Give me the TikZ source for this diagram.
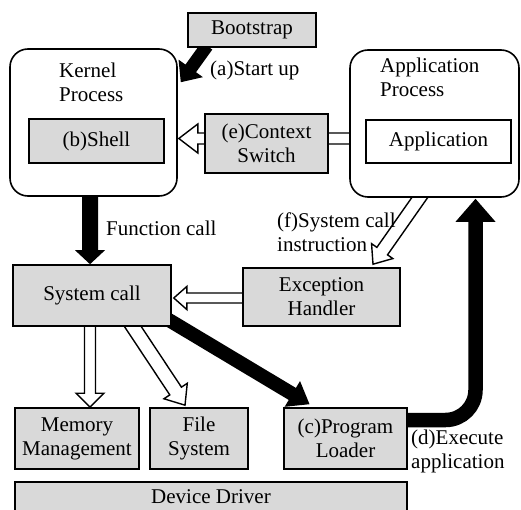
\documentclass[tikz,border=0pt]{standalone}
\usepackage{fontspec}
\setmainfont{Liberation Serif}
\usetikzlibrary{calc}
\pgfdeclarelayer{background}
\pgfsetlayers{background,main}
\definecolor{boxgray}{RGB}{217,217,217}

% block arrow: #1 style, #2 start, #3 tip, #4 shaft half width, #5 head half width, #6 head length
\newcommand\blockarrow[6]{%
  \coordinate (ba-s) at (#2);
  \coordinate (ba-t) at (#3);
  \coordinate (ba-h) at ($(ba-t)!#6!(ba-s)$);
  \path[#1] ($(ba-s)!#4!90:(ba-t)$) -- ($(ba-h)!#4!90:(ba-t)$)
    -- ($(ba-h)!#5!90:(ba-t)$) -- (ba-t) -- ($(ba-h)!#5!-90:(ba-t)$)
    -- ($(ba-h)!#4!-90:(ba-t)$) -- ($(ba-s)!#4!-90:(ba-t)$);
}

\tikzset{
  txt/.style={font=\fontsize{21}{24}\selectfont, inner sep=0pt},
  box/.style={txt, draw, line width=1.6pt, fill=boxgray, align=center},
  pbox/.style={box, fill=white, rounded corners=18pt},
  hollow/.style={draw, fill=white, line width=1.4pt, line join=miter},
  solid/.style={fill=black},
}

\begin{document}
\begin{tikzpicture}[x=1pt, y=-1pt]
\useasboundingbox (0,0) rectangle (521,510);
\clip (0,0) rectangle (521,510);

% processes
\node[pbox, minimum width=167pt, minimum height=147pt] (kernel) at (93.5,122.5) {};
\node[txt, anchor=west, align=left] (klabel) at (59,82.5) {Kernel\\Process};
\node[box, minimum width=135pt, minimum height=44pt] (shell) at (96.5,141) {(b)Shell};

\node[pbox, minimum width=169pt, minimum height=147pt] (app) at (434.5,123.5) {};
\node[txt, anchor=west, align=left] (alabel) at (380,77.5) {Application\\Process};
\node[box, fill=white, minimum width=145pt, minimum height=43pt] (appin) at (438.5,141.5) {Application};

% kernel services
\node[box, minimum width=128pt, minimum height=34pt] (boot) at (252,30) {Bootstrap};
\node[box, minimum width=123pt, minimum height=59pt] (ctx) at (266.5,143.5) {(e)Context\\Switch};
\node[box, minimum width=158pt, minimum height=61pt] (sys) at (92,295.5) {System call};
\node[box, minimum width=157pt, minimum height=58pt] (exc) at (321.5,297) {Exception\\Handler};
\node[box, minimum width=124pt, minimum height=61pt] (mem) at (77,438.5) {Memory\\Management};
\node[box, minimum width=98pt, minimum height=61pt] (fs) at (199,438.5) {File\\System};
\node[box, minimum width=123pt, minimum height=61pt] (pl) at (345.5,438.5) {(c)Program\\Loader};
\node[box, minimum width=392pt, minimum height=30pt] (dd) at (211,497) {Device Driver};

% labels
\node[txt, anchor=west] (la) at (210,70) {(a)Start up};
\node[txt, anchor=west] (lfc) at (106,228) {Function call};
\node[txt, anchor=west, align=left] (lf) at (277,232.5) {(f)System call\\instruction};
\node[txt, anchor=west, align=left] (ld) at (411,451) {(d)Execute\\application};

\begin{pgfonlayer}{background}
  % solid arrows
  \blockarrow{solid}{$(boot.south)+(-45,-2)$}{$(kernel.north east)+(3,34)$}{6.5pt}{15pt}{17pt}
  \blockarrow{solid}{$(kernel.south)+(-3.5,-3)$}{$(sys.north)+(-2,0)$}{8pt}{15pt}{14pt}
  \blockarrow{solid}{$(sys.south east)+(-5,-8)$}{$(pl.north)+(-36,-3)$}{7pt}{15pt}{20pt}
  \coordinate (dtip) at ($(app.south)+(41,1)$);
  \coordinate (dbase) at ($(dtip)+(0,23)$);
  \draw[line width=14.5pt, rounded corners=30pt] ($(pl.east)+(-6,-18.5)$) -| ($(dbase)+(0,-1)$);
  \fill ($(dbase)+(-20,0)$) -- ($(dbase)+(20,0)$) -- (dtip) -- cycle;

  % hollow arrows
  \blockarrow{hollow}{$(app.west)+(0,15)$}{$(kernel.east)+(1,16)$}{5.5pt}{14.5pt}{19pt}
  \blockarrow{hollow}{$(exc.west)+(0,1)$}{$(sys.east)+(2,2.5)$}{5pt}{11.5pt}{13pt}
  \blockarrow{hollow}{$(app.south)+(-10,-7)$}{$(exc.north)+(51.5,-3)$}{6.5pt}{13pt}{16pt}
  \blockarrow{hollow}{$(sys.south)+(-2,-5)$}{$(mem.north)+(13,0)$}{5.5pt}{14pt}{14pt}
  \blockarrow{hollow}{$(sys.south)+(37.7,-5)$}{$(fs.north)+(-14,-2)$}{7pt}{14pt}{17pt}
\end{pgfonlayer}
\end{tikzpicture}
\end{document}
